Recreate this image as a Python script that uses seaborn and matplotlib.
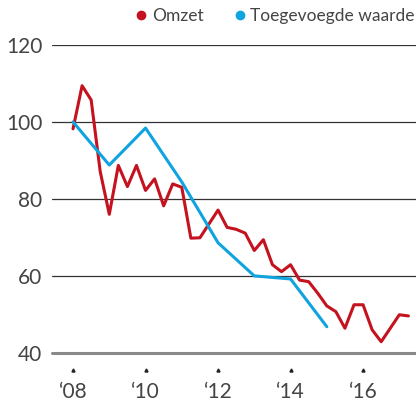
import pandas as pd
import numpy as np
import matplotlib.pyplot as plt
import matplotlib.transforms as mtransforms
from matplotlib.lines import Line2D
import seaborn as sns

# Omzet, per kwartaal (index 2008 = 100)
kwartalen = pd.period_range('2008Q1', '2017Q2', freq='Q')
omzet = [98.2, 109.4, 105.7, 87.1,
         76.0, 88.7, 83.2, 88.7,
         82.2, 85.2, 78.2, 83.9,
         83.0, 69.8, 69.9, 73.5,
         77.1, 72.6, 72.1, 71.1,
         66.6, 69.4, 62.9, 61.1,
         62.9, 58.9, 58.5, 55.5,
         52.2, 50.7, 46.4, 52.5,
         52.5, 46.0, 42.9, 46.4,
         49.9, 49.6]

# Toegevoegde waarde, per jaar
jaren = [2008, 2009, 2010, 2011, 2012, 2013, 2014, 2015]
toegevoegd = [100.0, 88.8, 98.4, 84.4, 68.6, 60.0, 59.2, 46.8]

xticks = [2008, 2010, 2012, 2014, 2016]
xlabels = ['\u201808', '\u201810', '\u201812', '\u201814', '\u201816']
yticks = [40, 60, 80, 100, 120]

rood = '#c4121f'
blauw = '#0fa3df'

df = pd.concat([
    pd.DataFrame({'jaar': kwartalen.year + (kwartalen.quarter - 1) / 4,
                  'waarde': omzet, 'reeks': 'Omzet'}),
    pd.DataFrame({'jaar': jaren, 'waarde': toegevoegd,
                  'reeks': 'Toegevoegde waarde'}),
])

sns.set_style('white')
plt.rcParams['font.family'] = ['Lato', 'DejaVu Sans']

fig = plt.figure(figsize=(4.16, 4.01), dpi=100)
ax = fig.add_axes([0.125, 0.12, 0.875, 0.768])

sns.lineplot(data=df, x='jaar', y='waarde', hue='reeks',
             palette={'Omzet': rood, 'Toegevoegde waarde': blauw},
             linewidth=2.2, legend=False, ax=ax, zorder=3)

ax.set_xlim(2007.42, 2017.46)
ax.set_ylim(40, 120)
ax.set_yticks(yticks)
ax.set_xticks(xticks)
ax.set_xticklabels(xlabels)
for y in yticks[1:]:
    ax.axhline(y, color='#333333', lw=0.9, zorder=1)
ax.axhline(40, color='#8a8a8a', lw=2.2, zorder=2, clip_on=False)

for s in ax.spines.values():
    s.set_visible(False)
ax.tick_params(axis='both', length=0, labelsize=15, colors='#444444')
ax.tick_params(axis='y', pad=7)
ax.tick_params(axis='x', pad=21)
ax.set_xlabel('')
ax.set_ylabel('')

# kleine tickjes onder de as
trans = mtransforms.blended_transform_factory(ax.transData, ax.transAxes)
ax.plot(xticks, [-0.055] * len(xticks), ls='', marker='^', ms=2.2,
        color='#222222', transform=trans, clip_on=False)

handles = [Line2D([], [], ls='', marker='o', ms=6, color=rood),
           Line2D([], [], ls='', marker='o', ms=6, color=blauw)]
leg = ax.legend(handles, ['Omzet', 'Toegevoegde waarde'], ncol=2,
                loc='lower right', bbox_to_anchor=(1.016, 1.045), frameon=False,
                handlelength=0.5, handletextpad=0.35, columnspacing=1.85,
                borderaxespad=0, prop={'size': 12.5})
for t in leg.get_texts():
    t.set_color('#444444')

fig.savefig('out.png', dpi=100)
